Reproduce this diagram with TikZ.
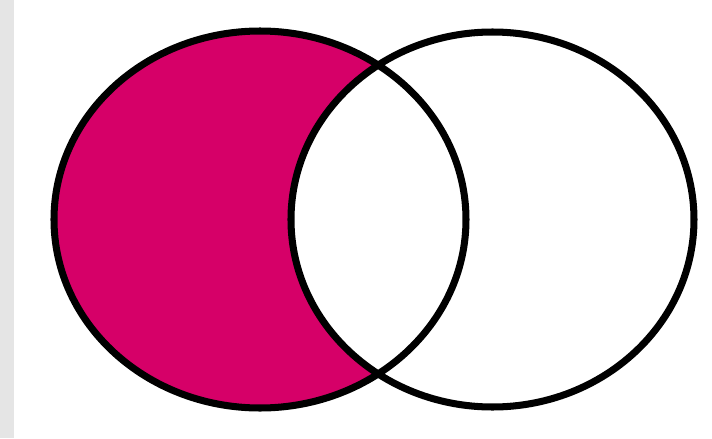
\documentclass[tikz,border=0pt]{standalone}
\usepackage{tikz}
\usepackage{xcolor}
\usetikzlibrary{calc}
\definecolor{setPink}{RGB}{214,0,104}
\definecolor{stripGray}{RGB}{229,229,229}
\def\setARx{2.06}
\def\setARy{1.885}
\def\setBRx{2.015}
\def\setBRy{1.875}
\tikzset{% Venn styles
  set outline/.style = {draw=black, line width=2pt},
  set fill/.style    = {fill=setPink},
}
\begin{document}
\begin{tikzpicture}
        \useasboundingbox (0,0) rectangle (7.12,4.38);

        % grey strip on the left edge
        \fill[stripGray] (0,0) rectangle (0.14,4.38);

        \coordinate (A) at (2.60,2.185);
        \coordinate (B) at (4.925,2.185);

        % A minus B
        \fill[set fill] (A) ellipse [x radius=\setARx, y radius=\setARy];
        \fill[white] (B) ellipse [x radius=\setBRx, y radius=\setBRy];

        \draw[set outline] (A) ellipse [x radius=\setARx, y radius=\setARy];
        \draw[set outline] (B) ellipse [x radius=\setBRx, y radius=\setBRy];
\end{tikzpicture}
\end{document}
